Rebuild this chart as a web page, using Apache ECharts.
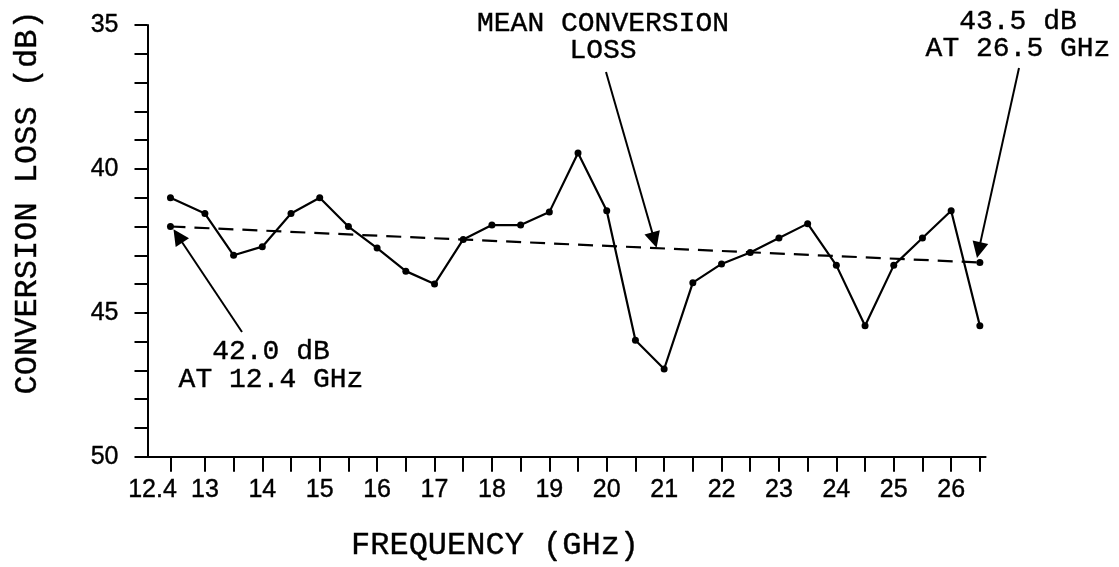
<!DOCTYPE html>
<html>
<head>
<meta charset="utf-8">
<script src="https://cdn.jsdelivr.net/npm/echarts@6/dist/echarts.min.js"></script>
<style>
html,body{margin:0;padding:0;background:#fff;}
#loss{width:1119px;height:567px;}
</style>
</head>
<body>
<div id="loss"></div>
<script>
//频率点 (GHz)
var freq = [12.4, 13, 13.5, 14, 14.5, 15, 15.5, 16, 16.5, 17, 17.5, 18, 18.5, 19, 19.5,
            20, 20.5, 21, 21.5, 22, 22.5, 23, 23.5, 24, 24.5, 25, 25.5, 26, 26.5]
//变频损耗 (dB)
var loss = [41.0, 41.55, 43.0, 42.7, 41.55, 41.0, 42.0, 42.75, 43.55, 44.0, 42.45, 41.95, 41.95, 41.5, 39.45,
            41.45, 45.95, 46.95, 43.95, 43.3, 42.9, 42.4, 41.9, 43.35, 45.45, 43.35, 42.4, 41.45, 45.45]
//平均变频损耗 两端
var meanFreq = [12.4, 26.5]
var meanLoss = [42.0, 43.25]
//刻度
var xTicks = [12.4, 13, 13.5, 14, 14.5, 15, 15.5, 16, 16.5, 17, 17.5, 18, 18.5, 19, 19.5,
              20, 20.5, 21, 21.5, 22, 22.5, 23, 23.5, 24, 24.5, 25, 25.5, 26, 26.5]
var xLabels = [12.4, 13, 14, 15, 16, 17, 18, 19, 20, 21, 22, 23, 24, 25, 26]
var yTicks = [35, 36, 37, 38, 39, 40, 41, 42, 43, 44, 45, 46, 47, 48, 49, 50]
var yLabels = [35, 40, 45, 50]

var mono = '"Liberation Mono", "DejaVu Sans Mono", monospace'
var sans = '"Liberation Sans", Arial, sans-serif'

var lossData = freq.map(function (f, i) { return [f, loss[i]] })
var meanData = meanFreq.map(function (f, i) { return [f, meanLoss[i]] })

var mycharts = echarts.init(document.getElementById('loss'), null, { renderer: 'canvas' })
var options = {
    animation: false,
    grid: {
        left: 147.5,
        top: 25,
        right: 133.4,
        bottom: 109,
        containLabel: false
    },
    xAxis: {
        type: 'value',
        min: 12,
        max: 26.6,
        name: 'FREQUENCY (GHz)',
        nameLocation: 'middle',
        nameGap: 73,
        nameTextStyle: {
            color: '#000',
            fontFamily: mono,
            fontSize: 32,
            textBorderColor: '#000',
            textBorderWidth: 0.4,
            padding: [0, 143, 0, 0]
        },
        axisLine: { //坐标轴轴线设置
            lineStyle: { color: '#000', width: 2 }
        },
        axisTick: { //坐标轴刻度设置
            customValues: xTicks,
            length: 15,
            lineStyle: { color: '#000', width: 2 }
        },
        axisLabel: {
            customValues: xLabels,
            margin: 21,
            color: '#000',
            fontFamily: sans,
            fontSize: 25,
            textBorderColor: '#000',
            textBorderWidth: 0.4,
            formatter: function (v) {
                return v === 12.4 ? '{first|12.4}' : String(v)
            },
            rich: {
                first: { fontFamily: sans, fontSize: 25, color: '#000', textBorderColor: '#000',
                         textBorderWidth: 0.4, padding: [0, 36, 0, 0] }
            }
        },
        splitLine: { show: false }
    },
    yAxis: {
        type: 'value',
        inverse: true,
        min: 35,
        max: 50,
        interval: 5,
        name: 'CONVERSION LOSS (dB)',
        nameLocation: 'middle',
        nameGap: 104,
        nameTextStyle: {
            color: '#000',
            fontFamily: mono,
            fontSize: 32,
            textBorderColor: '#000',
            textBorderWidth: 0.4,
            padding: [0, 0, 0, 77]
        },
        axisLine: {
            show: true,
            lineStyle: { color: '#000', width: 2 }
        },
        axisTick: {
            show: true,
            customValues: yTicks,
            length: 13,
            lineStyle: { color: '#000', width: 2 }
        },
        axisLabel: {
            customValues: yLabels,
            margin: 29,
            color: '#000',
            fontFamily: sans,
            fontSize: 25,
            textBorderColor: '#000',
            textBorderWidth: 0.4
        },
        splitLine: { show: false }
    },
    series: [
        {
            name: 'loss',
            type: 'line',
            data: lossData,
            clip: false,
            symbol: 'circle',
            symbolSize: 7,
            itemStyle: { color: '#000' },
            lineStyle: { color: '#000', width: 2.2 },
            markLine: {
                silent: true,
                symbol: ['none', 'triangle'],
                symbolSize: 16,
                label: { show: false },
                lineStyle: { color: '#000', width: 2, type: 'solid' },
                itemStyle: { color: '#000' },
                data: [
                    [{ x: 242, y: 332 }, { coord: [12.53, 42.33] }],
                    [{ x: 606, y: 72 }, { coord: [20.83, 42.47] }],
                    [{ x: 1019, y: 68 }, { coord: [26.48, 42.82] }]
                ]
            }
        },
        {
            name: 'mean',
            type: 'line',
            data: meanData,
            symbol: 'circle',
            symbolSize: 7,
            itemStyle: { color: '#000' },
            lineStyle: { color: '#000', width: 2.2, type: [15, 9] }
        }
    ],
    //注释文字
    graphic: [
        {
            type: 'text', x: 603, y: 37.5,
            style: { text: 'MEAN CONVERSION\nLOSS', textAlign: 'center', textVerticalAlign: 'middle',
                     fontFamily: mono, fontSize: 28, lineHeight: 27, fill: '#000',
                     stroke: '#000', lineWidth: 0.4 }
        },
        {
            type: 'text', x: 1018, y: 35,
            style: { text: '43.5 dB\nAT 26.5 GHz', textAlign: 'center', textVerticalAlign: 'middle',
                     fontFamily: mono, fontSize: 28, lineHeight: 27, fill: '#000',
                     stroke: '#000', lineWidth: 0.4 }
        },
        {
            type: 'text', x: 271, y: 366,
            style: { text: '42.0 dB\nAT 12.4 GHz', textAlign: 'center', textVerticalAlign: 'middle',
                     fontFamily: mono, fontSize: 28, lineHeight: 28, fill: '#000',
                     stroke: '#000', lineWidth: 0.4 }
        }
    ]
}
mycharts.setOption(options, true)
window.addEventListener('resize', () => mycharts.resize())
</script>
</body>
</html>
